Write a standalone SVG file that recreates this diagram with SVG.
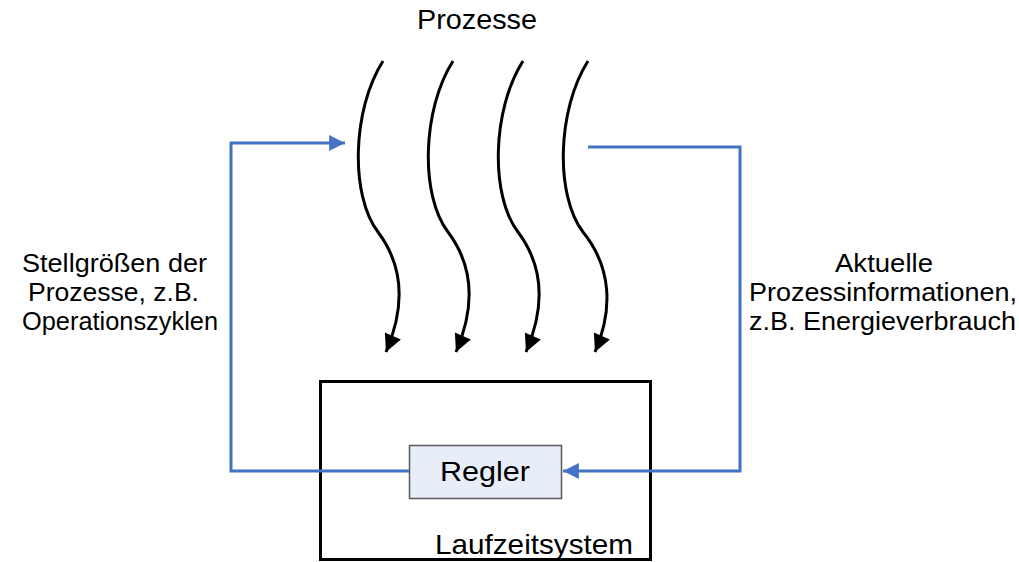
<svg xmlns="http://www.w3.org/2000/svg" width="1019" height="562" viewBox="0 0 1019 562">
<style>
text{font-family:"Liberation Sans",Arial,sans-serif;fill:#000}
.t{font-size:28px}
.l{font-size:26px}
.wave{fill:none;stroke:#000;stroke-width:3}
.conn{fill:none;stroke:#4472C4;stroke-width:3}
</style>
<defs>
<marker id="bk" viewBox="0 0 10 10" refX="10" refY="5" markerWidth="7.5" markerHeight="5.8" markerUnits="strokeWidth" orient="auto">
<path d="M0,0 L10,5 L0,10 z" fill="#000"/>
</marker>
<marker id="bl" viewBox="0 0 10 10" refX="10" refY="5" markerWidth="8.3" markerHeight="5.3" markerUnits="strokeWidth" orient="auto">
<path d="M0,0 L10,5 L0,10 z" fill="#4472C4"/>
</marker>
</defs>
<rect width="1019" height="562" fill="#fff"/>
<g id="title"><text class="t" x="417" y="29" textLength="120" lengthAdjust="spacingAndGlyphs">Prozesse</text></g>
<g id="laufzeitsystem">
<rect x="320.5" y="381.5" width="330" height="178" fill="none" stroke="#000" stroke-width="3"/>
<text class="t" x="435" y="554" textLength="198" lengthAdjust="spacingAndGlyphs">Laufzeitsystem</text>
</g>
<g id="regler">
<rect x="409.5" y="445.5" width="152" height="53" fill="#E8EEF8" stroke="#595959" stroke-width="1.5"/>
<text class="t" x="440" y="481" textLength="90" lengthAdjust="spacingAndGlyphs">Regler</text>
</g>
<g id="label-left">
<text class="l" x="22" y="272" textLength="185" lengthAdjust="spacingAndGlyphs">Stellgrößen der</text>
<text class="l" x="28" y="301" textLength="171" lengthAdjust="spacingAndGlyphs">Prozesse, z.B.</text>
<text class="l" x="22" y="330" textLength="196" lengthAdjust="spacingAndGlyphs">Operationszyklen</text>
</g>
<g id="label-right">
<text class="l" x="835" y="272" textLength="98" lengthAdjust="spacingAndGlyphs">Aktuelle</text>
<text class="l" x="749" y="301" textLength="268" lengthAdjust="spacingAndGlyphs">Prozessinformationen,</text>
<text class="l" x="749" y="330" textLength="267" lengthAdjust="spacingAndGlyphs">z.B. Energieverbrauch</text>
</g>
<g id="connectors">
<path class="wave" d="M383,61 C352,110 350,195 378,232 C405,268 404,310 386,352" marker-end="url(#bk)"/>
<path class="wave" d="M453,61 C422,110 420,195 448,232 C475,268 474,310 456,352" marker-end="url(#bk)"/>
<path class="wave" d="M523,61 C492,110 490,195 518,232 C545,268 544,310 526,352" marker-end="url(#bk)"/>
<path class="wave" d="M588,61 C557,110 555,195 583,232 C612,268 613,310 595,352" marker-end="url(#bk)"/>
<path class="conn" d="M409,471 H231 V143 H345" marker-end="url(#bl)"/>
<path class="conn" d="M588,147 H740 V471 H563" marker-end="url(#bl)"/>
</g>
</svg>
